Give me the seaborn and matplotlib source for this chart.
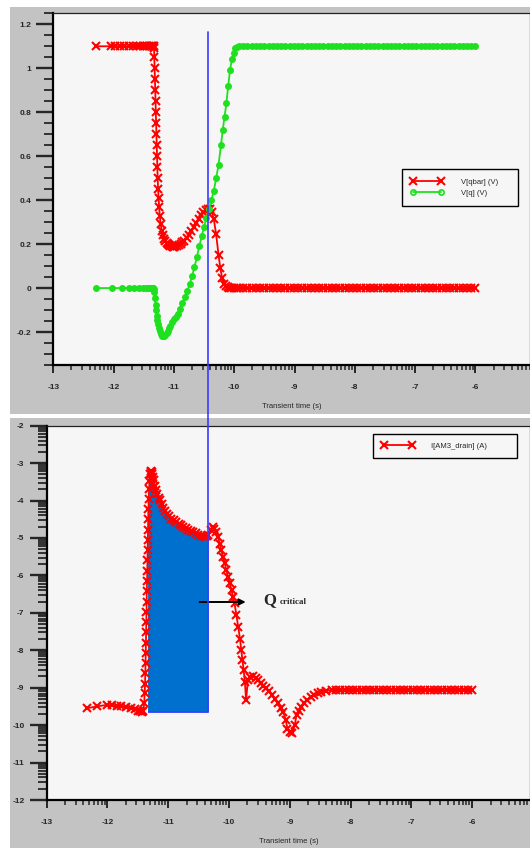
import numpy as np
import matplotlib
matplotlib.use('AGG')
from matplotlib import pyplot as plt
from matplotlib.ticker import FixedLocator, MultipleLocator, FuncFormatter
from matplotlib.patches import Rectangle
from matplotlib.lines import Line2D
import seaborn as sns

# ---- data (x = log10 of transient time, as read from the axis labels) ----
# shared time grid of the flat tail
t_tail = [-9.92, -9.85, -9.78, -9.71, -9.64, -9.57, -9.50, -9.43, -9.36, -9.29,
          -9.22, -9.15, -9.08, -9.01, -8.94, -8.87, -8.80, -8.73, -8.66, -8.59,
          -8.52, -8.45, -8.38, -8.31, -8.24, -8.17, -8.10, -8.03, -7.96, -7.89,
          -7.82, -7.75, -7.68, -7.61, -7.54, -7.47, -7.40, -7.33, -7.26, -7.19,
          -7.12, -7.05, -6.98, -6.91, -6.84, -6.77, -6.70, -6.63, -6.56, -6.49,
          -6.42, -6.35, -6.28, -6.21, -6.14, -6.07, -6.00]

# V[qbar] (V)
t_qbar = ([-12.30, -12.05, -11.97, -11.90, -11.82, -11.74, -11.68, -11.62, -11.57,
           -11.52, -11.48, -11.44, -11.41, -11.38, -11.36, -11.345, -11.335]
          + [-11.330, -11.325, -11.320, -11.315, -11.310, -11.305, -11.300, -11.295,
             -11.290, -11.285, -11.280, -11.275, -11.270, -11.262, -11.255, -11.245,
             -11.235, -11.220, -11.200, -11.180]
          + [-11.160, -11.140, -11.120, -11.100, -11.080, -11.060, -11.040, -11.020,
             -11.000, -10.975, -10.950, -10.920, -10.890, -10.860, -10.830, -10.790,
             -10.750, -10.710, -10.670, -10.630]
          + [-10.590, -10.550, -10.510, -10.470, -10.430, -10.400, -10.370, -10.340,
             -10.300, -10.260, -10.230, -10.200, -10.170, -10.140, -10.110, -10.080,
             -10.050, -10.000, -9.960]
          + t_tail)
v_qbar = ([1.10] * 17
          + [1.09, 1.05, 1.00, 0.95, 0.90, 0.85, 0.80, 0.75, 0.70, 0.65,
             0.60, 0.55, 0.50, 0.45, 0.41, 0.37, 0.33, 0.29, 0.26, 0.24]
          + [0.225, 0.213, 0.205, 0.199, 0.195, 0.192, 0.190, 0.189, 0.189, 0.190,
             0.192, 0.196, 0.201, 0.208, 0.216, 0.228, 0.243, 0.260, 0.279, 0.298]
          + [0.316, 0.332, 0.345, 0.355, 0.361, 0.360, 0.345, 0.315, 0.245, 0.150,
             0.090, 0.045, 0.020, 0.008, 0.003, 0.001, 0.000, 0.000, 0.000]
          + [0.0] * len(t_tail))

# V[q] (V)
t_q = ([-12.30, -12.02, -11.86, -11.74, -11.66, -11.58, -11.52, -11.47, -11.43,
        -11.40, -11.37, -11.35, -11.34]
       + [-11.335, -11.325, -11.315, -11.305, -11.295, -11.285, -11.275, -11.265,
          -11.250, -11.235, -11.220, -11.200, -11.180, -11.160, -11.140, -11.120,
          -11.100, -11.080, -11.060, -11.030]
       + [-11.000, -10.970, -10.940, -10.900, -10.860, -10.820, -10.780, -10.740,
          -10.700, -10.660, -10.620, -10.580, -10.540, -10.500, -10.460, -10.420,
          -10.380, -10.340, -10.300, -10.260]
       + [-10.220, -10.190, -10.160, -10.130, -10.100, -10.070, -10.040, -10.010,
          -9.980, -9.950]
       + t_tail)
v_q = ([0.0] * 13
       + [-0.005, -0.020, -0.045, -0.075, -0.100, -0.125, -0.145, -0.163, -0.182, -0.197,
          -0.208, -0.216, -0.220, -0.218, -0.212, -0.204, -0.195, -0.184, -0.172, -0.155]
       + [-0.140, -0.130, -0.120, -0.095, -0.068, -0.042, -0.015, 0.018, 0.053, 0.095,
          0.140, 0.190, 0.235, 0.280, 0.320, 0.360, 0.400, 0.440, 0.500, 0.560]
       + [0.650, 0.720, 0.780, 0.840, 0.920, 0.990, 1.040, 1.070, 1.090, 1.097]
       + [1.10] * len(t_tail))

# I[AM3_drain] (A), log10 of the current
t_drain_tail = [t for t in t_tail if t > -8.28]
t_drain = ([-12.34, -12.18, -12.01, -11.93, -11.85, -11.77, -11.69, -11.61, -11.55,
            -11.50, -11.46, -11.43, -11.41]
           + [-11.395, -11.388, -11.382, -11.377, -11.374, -11.371, -11.368, -11.365,
              -11.362, -11.359, -11.356, -11.353, -11.350, -11.347, -11.344, -11.341,
              -11.338, -11.335, -11.331, -11.327, -11.322, -11.316, -11.310, -11.300]
           + [-11.29, -11.28, -11.27, -11.26, -11.25, -11.24, -11.22, -11.20, -11.18,
              -11.16, -11.14, -11.11, -11.08, -11.05, -11.02, -10.99, -10.95, -10.91,
              -10.87, -10.83]
           + [-10.79, -10.75, -10.71, -10.67, -10.63, -10.59, -10.55, -10.51, -10.47,
              -10.43, -10.40, -10.37, -10.34, -10.30, -10.27, -10.24, -10.21, -10.18]
           + [-10.155, -10.13, -10.10, -10.07, -10.045, -10.02, -9.99, -9.96, -9.935,
              -9.91, -9.88, -9.85, -9.82, -9.80, -9.78, -9.76, -9.74, -9.72]
           + [-9.69, -9.65, -9.61, -9.56, -9.52, -9.48, -9.44, -9.40, -9.35, -9.30,
              -9.25, -9.19, -9.15, -9.11, -9.07, -9.04, -8.99, -8.96]
           + [-8.92, -8.89, -8.85, -8.81, -8.76, -8.72, -8.66, -8.61, -8.54, -8.48,
              -8.40, -8.31]
           + t_drain_tail)
v_drain = ([-9.55, -9.50, -9.46, -9.47, -9.49, -9.50, -9.52, -9.55, -9.58, -9.61,
            -9.63, -9.64, -9.62]
           + [-9.40, -9.15, -8.90, -8.62, -8.35, -8.08, -7.80, -7.52, -7.25, -6.97,
              -6.70, -6.42, -6.15, -5.88, -5.60, -5.32, -5.05, -4.78, -4.50, -4.22,
              -3.95, -3.70, -3.48, -3.30]
           + [-3.23, -3.22, -3.25, -3.30, -3.38, -3.46, -3.60, -3.72, -3.83, -3.92,
              -3.99, -4.10, -4.20, -4.28, -4.35, -4.42, -4.48, -4.53, -4.57, -4.62]
           + [-4.66, -4.70, -4.74, -4.78, -4.82, -4.85, -4.88, -4.91, -4.94, -4.96,
              -4.97, -4.95, -4.92, -4.78, -4.70, -4.75, -4.85, -4.97]
           + [-5.15, -5.32, -5.50, -5.68, -5.85, -6.03, -6.20, -6.39, -6.57, -6.75,
              -7.05, -7.37, -7.70, -7.99, -8.25, -8.53, -8.85, -9.33]
           + [-8.79, -8.72, -8.70, -8.74, -8.79, -8.87, -8.96, -9.00, -9.09, -9.19,
              -9.30, -9.42, -9.53, -9.64, -9.85, -10.09, -10.18, -10.22]
           + [-10.00, -9.73, -9.62, -9.51, -9.42, -9.33, -9.25, -9.19, -9.15, -9.11,
              -9.08, -9.06]
           + [-9.06] * len(t_drain_tail))

# shaded charge window and marker line
q_left = -11.341
q_right = -10.34
q_floor = -9.65
marker_top = 1.165

x_major = [-13, -12, -11, -10, -9, -8, -7, -6]
y_top_lim = (-0.35, 1.25)
y_bot_major = [-12, -11, -10, -9, -8, -7, -6, -5, -4, -3, -2]

red = '#ff0000'
green = '#1fe01f'
blue_fill = '#0070cf'
blue_line = '#3c3cff'
panel_grey = '#c3c3c3'
plot_bg = '#f6f6f6'

sns.set_style('ticks')
plt.rcParams['font.family'] = ['Liberation Sans', 'DejaVu Sans']
plt.rcParams['font.weight'] = 'bold'
plt.rcParams['axes.unicode_minus'] = False

fig = plt.figure(figsize=(5.3, 8.48), dpi=100)
fig.patch.set_facecolor('white')
fig.add_artist(Rectangle((0.019, 0.512), 0.981, 0.4797, transform=fig.transFigure,
                         facecolor=panel_grey, edgecolor='none', zorder=-2))
fig.add_artist(Rectangle((0.019, 0.0), 0.981, 0.507, transform=fig.transFigure,
                         facecolor=panel_grey, edgecolor='none', zorder=-2))

ax1 = fig.add_axes([0.1006, 0.5696, 0.8994, 0.4147])
ax2 = fig.add_axes([0.0881, 0.0566, 0.9119, 0.4414])


def log_minor(start, stop):
    return [d + np.log10(m) for d in range(start, stop) for m in range(2, 10)]


def style_axis(ax):
    ax.set_facecolor(plot_bg)
    for side in ['left', 'bottom']:
        ax.spines[side].set_linewidth(1.6)
        ax.spines[side].set_color('black')
    for side in ['top', 'right']:
        ax.spines[side].set_linewidth(0.9)
        ax.spines[side].set_color('#222222')
    ax.xaxis.set_major_locator(FixedLocator(x_major))
    ax.xaxis.set_minor_locator(FixedLocator(log_minor(-13, -5)))
    ax.xaxis.set_major_formatter(FuncFormatter(lambda v, p: '%d' % round(v)))
    ax.tick_params(axis='y', which='major', direction='out', length=12, width=1.7,
                   pad=4, labelsize=6, left=True, right=False)
    ax.tick_params(axis='y', which='minor', direction='out', length=6.5, width=1.3,
                   left=True, right=False)
    ax.tick_params(axis='x', which='major', direction='out', length=6, width=1.4,
                   pad=8, labelsize=6, bottom=True, top=False)
    ax.tick_params(axis='x', which='minor', direction='out', length=3.5, width=1.1,
                   bottom=True, top=False)
    ax.set_xlabel('Transient time (s)', fontsize=5.5, labelpad=8)
    ax.set_ylabel('')


# ---- top panel ----
sns.lineplot(x=t_qbar, y=v_qbar, ax=ax1, sort=False, estimator=None, color=red,
             linewidth=1.3, marker='x', markersize=5.2, markeredgewidth=1.5,
             markeredgecolor=red, label='V[qbar] (V)')
sns.lineplot(x=t_q, y=v_q, ax=ax1, sort=False, estimator=None, color=green,
             linewidth=1.3, marker='o', markersize=3.8, markeredgewidth=1.2,
             markeredgecolor=green, markerfacecolor=green, label='V[q] (V)')
ax1.set_xlim(-13, -5.095)
ax1.set_ylim(*y_top_lim)
style_axis(ax1)
ax1.yaxis.set_major_locator(MultipleLocator(0.2))
ax1.yaxis.set_minor_locator(MultipleLocator(0.05))
ax1.yaxis.set_major_formatter(FuncFormatter(lambda v, p: '%g' % (round(v, 2) + 0)))

leg1 = ax1.legend(loc='upper left', bbox_to_anchor=(0.731, 0.557, 0.243, 0.0),
                  mode='expand', borderaxespad=0, numpoints=2, handlelength=4.3,
                  handletextpad=2.2, borderpad=1.2, labelspacing=0.5,
                  fancybox=False, framealpha=1, facecolor=plot_bg, edgecolor='black',
                  prop={'weight': 'normal', 'size': 5.5})
leg1.get_frame().set_linewidth(1.0)
for h in leg1.get_lines():
    h.set_markerfacecolor('none')

# ---- bottom panel ----
t_arr = np.array(t_drain)
v_arr = np.array(v_drain)
window = (t_arr >= q_left) & (t_arr <= q_right)
ax2.fill_between(t_arr[window], v_arr[window], q_floor, color=blue_fill,
                 linewidth=0, zorder=1)
ax2.hlines(q_floor, q_left, q_right, color=blue_line, linewidth=1.2, zorder=1.5)
sns.lineplot(x=t_drain, y=v_drain, ax=ax2, sort=False, estimator=None, color=red,
             linewidth=1.3, marker='x', markersize=5.2, markeredgewidth=1.5,
             markeredgecolor=red, label='I[AM3_drain] (A)', zorder=2)
ax2.set_xlim(-13, -5.05)
ax2.set_ylim(-12, -2)
style_axis(ax2)
ax2.yaxis.set_major_locator(FixedLocator(y_bot_major))
ax2.yaxis.set_minor_locator(FixedLocator(log_minor(-12, -2)))
ax2.yaxis.set_major_formatter(FuncFormatter(lambda v, p: '%d' % round(v)))

leg2 = ax2.legend(loc='upper left', bbox_to_anchor=(0.675, 0.978, 0.298, 0.0),
                  mode='expand', borderaxespad=0, numpoints=2, handlelength=4.3,
                  handletextpad=2.2, borderpad=1.1, fancybox=False, framealpha=1,
                  facecolor=plot_bg, edgecolor='black',
                  prop={'weight': 'normal', 'size': 5.5})
leg2.get_frame().set_linewidth(1.0)

ax2.annotate('', xy=(-9.68, -6.71), xytext=(-10.53, -6.71),
             arrowprops=dict(arrowstyle='-|>', color='black', lw=1.4, mutation_scale=9))
ax2.text(-9.44, -6.76, 'Q', fontfamily='Liberation Serif', fontweight='bold',
         fontsize=12, ha='left', va='baseline')
ax2.text(-9.17, -6.77, 'critical', fontfamily='Liberation Serif', fontweight='bold',
         fontsize=6.5, ha='left', va='baseline')

# vertical marker line running through both panels
inv = fig.transFigure.inverted()
p_bot = inv.transform(ax2.transData.transform((q_right, q_floor)))
p_top = inv.transform(ax1.transData.transform((q_right, marker_top)))
fig.add_artist(Line2D([p_bot[0], p_bot[0]], [p_bot[1], p_top[1]],
                      transform=fig.transFigure, color=blue_line, linewidth=1.2, zorder=5))

fig.savefig('out.png', dpi=100)
